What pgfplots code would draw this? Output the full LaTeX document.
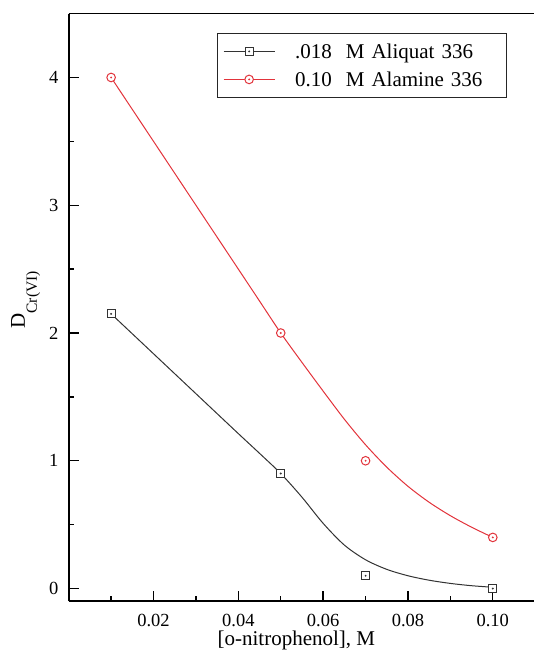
\documentclass[border=0pt]{standalone}
\usepackage{fontspec}
\setmainfont{Liberation Serif}
\usepackage{pgfplots}
\pgfplotsset{compat=1.18}
\definecolor{origred}{HTML}{E2333B}
\definecolor{origgray}{HTML}{333333}

% hollow square / circle with a dot in the middle (Origin style)
\pgfdeclareplotmark{sqdot}{%
  \begin{pgfscope}
    \pgfsetfillcolor{white}%
    \pgfpathrectangle{\pgfqpoint{-\pgfplotmarksize}{-\pgfplotmarksize}}{\pgfqpoint{2\pgfplotmarksize}{2\pgfplotmarksize}}%
    \pgfusepathqfillstroke
  \end{pgfscope}
  \pgfpathcircle{\pgfpointorigin}{0.35pt}%
  \pgfusepathqstroke}
\pgfdeclareplotmark{odot}{%
  \begin{pgfscope}
    \pgfsetfillcolor{white}%
    \pgfpathcircle{\pgfpointorigin}{\pgfplotmarksize}%
    \pgfusepathqfillstroke
  \end{pgfscope}
  \pgfpathcircle{\pgfpointorigin}{0.35pt}%
  \pgfusepathqstroke}

\pgfplotsset{
  lineentry/.style={legend image code/.code={%
    \path (-5.4pt,0pt) (71pt,0pt);
    \draw[solid] (0pt,0pt) -- (51pt,0pt);
    \draw plot coordinates {(25.5pt,0pt)};}},
}

\begin{document}
\begin{tikzpicture}
\begin{axis}[
  scale only axis,
  width=466.5pt, height=587.7pt,
  xmin=0, xmax=0.11, ymin=-0.1, ymax=4.5,
  axis x line*=box, axis y line*=left,
  axis line style={line width=1.8pt, black},
  xtick pos=bottom, ytick pos=left,
  tick align=inside,
  major tick length=10pt, minor tick length=5.5pt,
  every tick/.style={black, line width=1.4pt},
  xtick={0.02,0.04,0.06,0.08,0.1},
  xticklabels={0.02,0.04,0.06,0.08,0.10},
  minor xtick={0.01,0.03,0.05,0.07,0.09},
  ytick={0,1,2,3,4},
  yticklabels={0,1,2,3,4},
  minor ytick={0.5,1.5,2.5,3.5},
  tick label style={font=\fontsize{18.5}{20}\selectfont},
  xticklabel style={anchor=base, yshift=-24.7pt},
  yticklabel style={anchor=east, inner sep=0pt, xshift=-10pt},
  xlabel={[o-nitrophenol], M},
  xlabel style={at={(axis description cs:0.488,0)}, anchor=base, yshift=-44pt,
    font=\fontsize{21}{24}\selectfont},
  ylabel={D\raisebox{-12pt}{\fontsize{15.5}{16}\selectfont Cr(VI)}},
  ylabel style={at={(axis description cs:-0.0937,0.5127)}, anchor=base,
    font=\fontsize{21}{24}\selectfont},
  legend cell align=left,
  legend style={at={(axis description cs:0.3185,0.9665)}, anchor=north west,
    draw=black!85, line width=0.9pt, inner xsep=0pt, inner ysep=8.7pt,
    row sep=10pt, font=\fontsize{21}{24}\selectfont,
    nodes={inner sep=0pt, text width=211pt, text height=16pt, text depth=2pt}},
]
% curves
\addplot[origgray, line width=1pt, smooth, forget plot] coordinates {
  (0.01,2.15) (0.02,1.8375) (0.03,1.525) (0.04,1.2125) (0.045,1.058)
  (0.05,0.90) (0.055,0.715) (0.06,0.51)
  (0.065,0.34) (0.07,0.225) (0.075,0.15) (0.08,0.10) (0.085,0.065)
  (0.09,0.04) (0.095,0.022) (0.10,0.01)
};
\addplot[origred, line width=1pt, smooth, forget plot] coordinates {
  (0.01,4.0) (0.02,3.5) (0.03,3.0) (0.04,2.5) (0.045,2.25)
  (0.05,2.0) (0.055,1.77) (0.06,1.545) (0.065,1.325)
  (0.07,1.125) (0.075,0.95) (0.08,0.80) (0.085,0.675) (0.09,0.57)
  (0.095,0.48) (0.10,0.40)
};
% measured points
\addplot[origgray, only marks, mark=sqdot, mark size=4pt, line width=1pt, lineentry]
  coordinates {(0.01,2.15) (0.05,0.9) (0.07,0.1) (0.10,0.0)};
\addlegendentry{.018\ \ M Aliquat 336}
\addplot[origred, only marks, mark=odot, mark size=4.3pt, line width=1pt, lineentry]
  coordinates {(0.01,4.0) (0.05,2.0) (0.07,1.0) (0.10,0.4)};
\addlegendentry{0.10\ \ M Alamine 336}
\end{axis}
\pgfresetboundingbox
\path ([xshift=-68.7pt,yshift=-50.7pt]current axis.south west)
  rectangle ([xshift=-2.2pt,yshift=13.6pt]current axis.north east);
\end{tikzpicture}
\end{document}
